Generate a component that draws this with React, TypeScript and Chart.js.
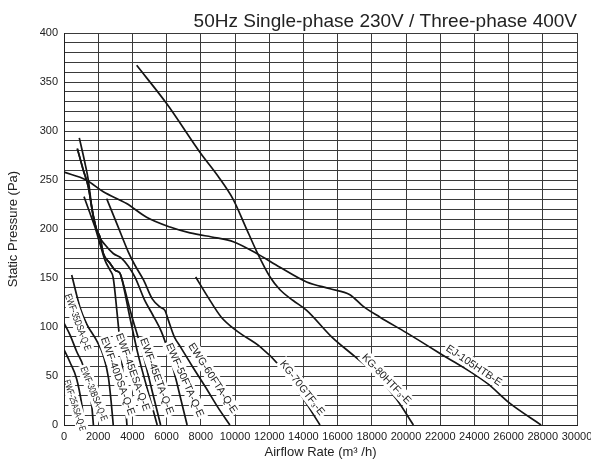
import React, { useEffect, useRef } from "react";
import { Chart, registerables } from "chart.js";

Chart.register(...registerables);

const TITLE = "50Hz Single-phase 230V / Three-phase 400V";
const X_TITLE = "Airflow Rate (m³ /h)";
const Y_TITLE = "Static Pressure (Pa)";

// axis ranges / tick steps
const X_MAX = 30000;
const X_STEP = 2000;
const Y_MAX = 400;
const Y_GRID_STEP = 10;
const Y_LABEL_STEP = 50;

// curve data: airflow (m3/h) and static pressure (Pa)
const ewf25Flow = [0, 350, 740, 1030, 1200];
const ewf25Pa = [77, 64, 47, 22, 0];

const ewf30Flow = [0, 350, 740, 1130, 1420, 1620, 1720];
const ewf30Pa = [104, 92, 75, 60, 40, 20, 0];

const ewf35Flow = [450, 936, 1330, 1910, 2300, 2600, 2750, 2880];
const ewf35Pa = [153, 120, 103, 86, 71, 48, 25, 0];

const ewf40Flow = [1170, 1520, 1810, 2100, 2400, 2690, 2880, 3100, 3300, 3500, 3680];
const ewf40Pa = [233, 216, 202, 185, 168, 158, 150, 115, 80, 42, 0];

const ewf45eFlow = [780, 1130, 1420, 1710, 1910, 2100, 2300, 2690, 2980, 3270, 3370, 3850, 4345, 4900, 5450];
const ewf45ePa = [282, 260, 243, 213, 199, 192, 175, 165, 158, 155, 150, 110, 71, 35, 0];

const ewf45tFlow = [780, 1130, 1420, 1710, 1910, 2100, 2300, 2690, 2980, 3270, 3370, 3950, 4640, 5150, 5650];
const ewf45tPa = [282, 260, 243, 213, 199, 192, 175, 165, 158, 155, 150, 112, 71, 35, 0];

const ewf50Flow = [895, 1230, 1420, 1620, 1810, 2000, 2400, 2880, 3370, 3760, 4150, 4700, 5200, 5700, 6100, 6500, 6850, 7200];
const ewf50Pa = [293, 267, 250, 223, 206, 194, 184, 175, 170, 162, 151, 128, 112, 95, 75, 50, 25, 0];

const ewg60Flow = [2495, 3100, 3750, 4150, 4650, 5150, 5650, 5900, 6100, 6450, 6800, 7500, 8300, 9000, 9700];
const ewg60Pa = [231, 205, 177, 163, 148, 129, 120, 117, 107, 90, 80, 60, 38, 18, 0];

const kg70Flow = [7700, 8400, 9200, 10100, 11460, 12630, 13800, 14970];
const kg70Pa = [151, 131, 110, 96, 80, 60, 32, 0];

const kg80Flow = [4250, 6000, 8000, 9000, 9900, 10600, 11270, 12050, 12630, 13400, 14190, 15650, 17000, 18200, 19460, 20430];
const kg80Pa = [367, 328, 277, 254, 230, 203, 177, 151, 138, 127, 117, 90, 70, 52, 26, 0];

const ej105Flow = [0, 1300, 2300, 3660, 4830, 6200, 7370, 8930, 9900, 11270, 12630, 14190, 15560, 16720, 17500, 18480, 20040, 21990, 24720, 26080, 27900];
const ej105Pa = [258, 250, 238, 226, 212, 202, 196, 191, 187, 175, 161, 146, 139, 133, 121, 110, 94, 73, 43, 22, 0];

const seriesList = [
  { name: "EWF-25ASA-Q-E", flow: ewf25Flow, pa: ewf25Pa },
  { name: "EWF-30BSA-Q-E", flow: ewf30Flow, pa: ewf30Pa },
  { name: "EWF-35DSA-Q-E", flow: ewf35Flow, pa: ewf35Pa },
  { name: "EWF-40DSA-Q-E", flow: ewf40Flow, pa: ewf40Pa },
  { name: "EWF-45ESA-Q-E", flow: ewf45eFlow, pa: ewf45ePa },
  { name: "EWF-45ETA-Q-E", flow: ewf45tFlow, pa: ewf45tPa },
  { name: "EWF-50FTA-Q-E", flow: ewf50Flow, pa: ewf50Pa },
  { name: "EWG-60FTA-Q-E", flow: ewg60Flow, pa: ewg60Pa },
  { name: "KG-70GTF₃-E", flow: kg70Flow, pa: kg70Pa },
  { name: "KG-80HTF₃-E", flow: kg80Flow, pa: kg80Pa },
  { name: "EJ-105HTB-E", flow: ej105Flow, pa: ej105Pa },
];

// curve label annotations (anchor in data units, rotation in degrees)
const labelText = seriesList.map((s) => s.name);
const labelFlow = [643, 1754, 818, 3158, 4035, 5439, 7076, 8713, 13947, 18870, 23977];
const labelPa = [20, 32, 105, 50, 54, 50, 46, 48, 38, 47, 61];
const labelAngle = [72, 68, 70, 70, 70, 70, 66, 57, 52, 46, 34];
const labelSize = [9.5, 10, 10, 10.5, 10.5, 10.5, 10.5, 10.5, 10.5, 10.5, 10.5];
const labelCondense = [0.72, 0.74, 0.76, 1, 1, 1, 1, 1, 1, 1, 1];

const FONT = '"Liberation Sans", Arial, Helvetica, sans-serif';

const curveLabelPlugin = {
  id: "curveLabels",
  afterDatasetsDraw(chart: any) {
    const { ctx, chartArea } = chart;
    const xs = chart.scales.x;
    const ys = chart.scales.y;
    ctx.save();
    ctx.beginPath();
    ctx.rect(chartArea.left + 1, 0, chart.width - chartArea.left, chartArea.bottom + 6);
    ctx.clip();
    labelText.forEach((text, i) => {
      const px = xs.getPixelForValue(labelFlow[i]);
      const py = ys.getPixelForValue(labelPa[i]);
      const size = labelSize[i];
      const k = labelCondense[i];
      ctx.save();
      ctx.translate(px, py);
      ctx.rotate((labelAngle[i] * Math.PI) / 180);
      ctx.font = `${size}px ${FONT}`;
      const w = ctx.measureText(text).width * k;
      ctx.fillStyle = "#ffffff";
      ctx.fillRect(-w / 2 - 2, -size / 2 - 1.5, w + 4, size + 3);
      ctx.scale(k, 1);
      ctx.fillStyle = "#222";
      ctx.textAlign = "center";
      ctx.textBaseline = "middle";
      ctx.fillText(text, 0, 0.5);
      ctx.restore();
    });
    ctx.restore();
  },
};

export default function App() {
  const canvasRef = useRef<HTMLCanvasElement | null>(null);

  useEffect(() => {
    if (!canvasRef.current) return;
    const datasets = seriesList.map((s) => ({
      label: s.name,
      data: s.flow.map((f, i) => ({ x: f, y: s.pa[i] })),
      borderColor: "#151515",
      borderWidth: 1.7,
      pointRadius: 0,
      fill: false,
      cubicInterpolationMode: "monotone" as const,
    }));

    const chart = new Chart(canvasRef.current, {
      type: "line",
      data: { datasets },
      plugins: [curveLabelPlugin],
      options: {
        animation: false,
        responsive: false,
        maintainAspectRatio: false,
        layout: { padding: { left: 0, right: 14, top: 0, bottom: 0 } },
        plugins: {
          legend: { display: false },
          tooltip: { enabled: false },
          title: {
            display: true,
            text: TITLE,
            align: "end",
            color: "#222",
            font: { family: FONT, size: 19, weight: "normal", lineHeight: 1 },
            padding: { top: 12, bottom: 2 },
          },
        },
        scales: {
          x: {
            type: "linear",
            min: 0,
            max: X_MAX,
            ticks: {
              stepSize: X_STEP,
              autoSkip: false,
              maxRotation: 0,
              color: "#222",
              font: { family: FONT, size: 11 },
              padding: 5,
              callback: (v: any) => String(v),
            },
            grid: { color: "#3a3a3a", lineWidth: 1, drawTicks: false },
            border: { color: "#222", width: 1 },
            title: {
              display: true,
              text: X_TITLE,
              color: "#222",
              font: { family: FONT, size: 13 },
              padding: { top: 0, bottom: 4 },
            },
            afterFit: (s: any) => {
              s.height = 39;
              s.paddingRight = 14;
            },
          },
          y: {
            type: "linear",
            min: 0,
            max: Y_MAX,
            ticks: {
              stepSize: Y_GRID_STEP,
              autoSkip: false,
              color: "#222",
              font: { family: FONT, size: 11 },
              padding: 6,
              callback: (v: any) => (Number(v) % Y_LABEL_STEP === 0 ? String(v) : ""),
            },
            grid: { color: "#3a3a3a", lineWidth: 1, drawTicks: false },
            border: { color: "#222", width: 1 },
            title: {
              display: true,
              text: Y_TITLE,
              color: "#222",
              font: { family: FONT, size: 13 },
              padding: { top: 6, bottom: 0 },
            },
            afterFit: (s: any) => {
              s.width = 64;
            },
          },
        },
      },
    });
    return () => chart.destroy();
  }, []);

  return (
    <div style={{ position: "fixed", left: 0, top: 0, width: 591, height: 464, background: "#fff" }}>
      <canvas ref={canvasRef} width={591} height={464} style={{ width: 591, height: 464, display: "block" }} />
    </div>
  );
}
